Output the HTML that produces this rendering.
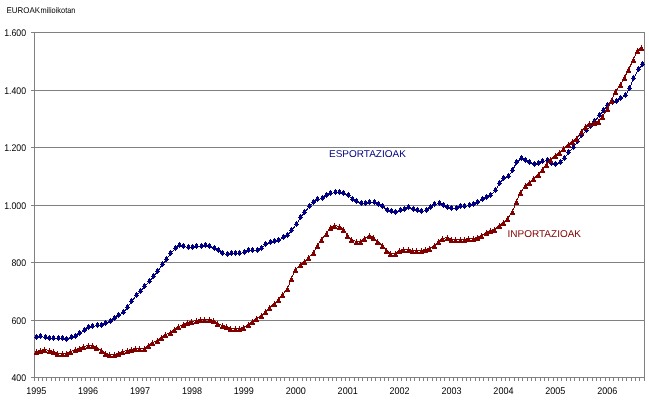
<!DOCTYPE html>
<html><head><meta charset="utf-8"><style>
html,body{margin:0;padding:0;background:#fff;width:649px;height:402px;overflow:hidden}
svg{display:block;will-change:transform}
text{font-family:"Liberation Sans", sans-serif}
</style></head><body>
<svg width="649" height="402" viewBox="0 0 649 402">
<g shape-rendering="crispEdges">
<rect x="31" y="32" width="614" height="1" fill="#808080"/><rect x="31" y="90" width="614" height="1" fill="#808080"/><rect x="31" y="147" width="614" height="1" fill="#808080"/><rect x="31" y="205" width="614" height="1" fill="#808080"/><rect x="31" y="262" width="614" height="1" fill="#808080"/><rect x="31" y="320" width="614" height="1" fill="#808080"/><rect x="31" y="377" width="614" height="1" fill="#808080"/><rect x="34" y="32" width="1" height="349" fill="#808080"/><rect x="644" y="32" width="1" height="349" fill="#808080"/><rect x="34" y="378" width="1" height="3" fill="#808080"/><rect x="38" y="378" width="1" height="3" fill="#808080"/><rect x="42" y="378" width="1" height="3" fill="#808080"/><rect x="46" y="378" width="1" height="3" fill="#808080"/><rect x="51" y="378" width="1" height="3" fill="#808080"/><rect x="55" y="378" width="1" height="3" fill="#808080"/><rect x="59" y="378" width="1" height="3" fill="#808080"/><rect x="64" y="378" width="1" height="3" fill="#808080"/><rect x="68" y="378" width="1" height="3" fill="#808080"/><rect x="72" y="378" width="1" height="3" fill="#808080"/><rect x="77" y="378" width="1" height="3" fill="#808080"/><rect x="81" y="378" width="1" height="3" fill="#808080"/><rect x="85" y="378" width="1" height="3" fill="#808080"/><rect x="90" y="378" width="1" height="3" fill="#808080"/><rect x="94" y="378" width="1" height="3" fill="#808080"/><rect x="98" y="378" width="1" height="3" fill="#808080"/><rect x="103" y="378" width="1" height="3" fill="#808080"/><rect x="107" y="378" width="1" height="3" fill="#808080"/><rect x="111" y="378" width="1" height="3" fill="#808080"/><rect x="116" y="378" width="1" height="3" fill="#808080"/><rect x="120" y="378" width="1" height="3" fill="#808080"/><rect x="124" y="378" width="1" height="3" fill="#808080"/><rect x="129" y="378" width="1" height="3" fill="#808080"/><rect x="133" y="378" width="1" height="3" fill="#808080"/><rect x="137" y="378" width="1" height="3" fill="#808080"/><rect x="142" y="378" width="1" height="3" fill="#808080"/><rect x="146" y="378" width="1" height="3" fill="#808080"/><rect x="150" y="378" width="1" height="3" fill="#808080"/><rect x="155" y="378" width="1" height="3" fill="#808080"/><rect x="159" y="378" width="1" height="3" fill="#808080"/><rect x="163" y="378" width="1" height="3" fill="#808080"/><rect x="168" y="378" width="1" height="3" fill="#808080"/><rect x="172" y="378" width="1" height="3" fill="#808080"/><rect x="176" y="378" width="1" height="3" fill="#808080"/><rect x="181" y="378" width="1" height="3" fill="#808080"/><rect x="185" y="378" width="1" height="3" fill="#808080"/><rect x="189" y="378" width="1" height="3" fill="#808080"/><rect x="194" y="378" width="1" height="3" fill="#808080"/><rect x="198" y="378" width="1" height="3" fill="#808080"/><rect x="202" y="378" width="1" height="3" fill="#808080"/><rect x="207" y="378" width="1" height="3" fill="#808080"/><rect x="211" y="378" width="1" height="3" fill="#808080"/><rect x="215" y="378" width="1" height="3" fill="#808080"/><rect x="220" y="378" width="1" height="3" fill="#808080"/><rect x="224" y="378" width="1" height="3" fill="#808080"/><rect x="228" y="378" width="1" height="3" fill="#808080"/><rect x="233" y="378" width="1" height="3" fill="#808080"/><rect x="237" y="378" width="1" height="3" fill="#808080"/><rect x="241" y="378" width="1" height="3" fill="#808080"/><rect x="245" y="378" width="1" height="3" fill="#808080"/><rect x="250" y="378" width="1" height="3" fill="#808080"/><rect x="254" y="378" width="1" height="3" fill="#808080"/><rect x="258" y="378" width="1" height="3" fill="#808080"/><rect x="263" y="378" width="1" height="3" fill="#808080"/><rect x="267" y="378" width="1" height="3" fill="#808080"/><rect x="271" y="378" width="1" height="3" fill="#808080"/><rect x="276" y="378" width="1" height="3" fill="#808080"/><rect x="280" y="378" width="1" height="3" fill="#808080"/><rect x="284" y="378" width="1" height="3" fill="#808080"/><rect x="289" y="378" width="1" height="3" fill="#808080"/><rect x="293" y="378" width="1" height="3" fill="#808080"/><rect x="297" y="378" width="1" height="3" fill="#808080"/><rect x="302" y="378" width="1" height="3" fill="#808080"/><rect x="306" y="378" width="1" height="3" fill="#808080"/><rect x="310" y="378" width="1" height="3" fill="#808080"/><rect x="315" y="378" width="1" height="3" fill="#808080"/><rect x="319" y="378" width="1" height="3" fill="#808080"/><rect x="323" y="378" width="1" height="3" fill="#808080"/><rect x="328" y="378" width="1" height="3" fill="#808080"/><rect x="332" y="378" width="1" height="3" fill="#808080"/><rect x="336" y="378" width="1" height="3" fill="#808080"/><rect x="341" y="378" width="1" height="3" fill="#808080"/><rect x="345" y="378" width="1" height="3" fill="#808080"/><rect x="349" y="378" width="1" height="3" fill="#808080"/><rect x="354" y="378" width="1" height="3" fill="#808080"/><rect x="358" y="378" width="1" height="3" fill="#808080"/><rect x="362" y="378" width="1" height="3" fill="#808080"/><rect x="367" y="378" width="1" height="3" fill="#808080"/><rect x="371" y="378" width="1" height="3" fill="#808080"/><rect x="375" y="378" width="1" height="3" fill="#808080"/><rect x="380" y="378" width="1" height="3" fill="#808080"/><rect x="384" y="378" width="1" height="3" fill="#808080"/><rect x="388" y="378" width="1" height="3" fill="#808080"/><rect x="393" y="378" width="1" height="3" fill="#808080"/><rect x="397" y="378" width="1" height="3" fill="#808080"/><rect x="401" y="378" width="1" height="3" fill="#808080"/><rect x="406" y="378" width="1" height="3" fill="#808080"/><rect x="410" y="378" width="1" height="3" fill="#808080"/><rect x="414" y="378" width="1" height="3" fill="#808080"/><rect x="419" y="378" width="1" height="3" fill="#808080"/><rect x="423" y="378" width="1" height="3" fill="#808080"/><rect x="427" y="378" width="1" height="3" fill="#808080"/><rect x="432" y="378" width="1" height="3" fill="#808080"/><rect x="436" y="378" width="1" height="3" fill="#808080"/><rect x="440" y="378" width="1" height="3" fill="#808080"/><rect x="444" y="378" width="1" height="3" fill="#808080"/><rect x="449" y="378" width="1" height="3" fill="#808080"/><rect x="453" y="378" width="1" height="3" fill="#808080"/><rect x="457" y="378" width="1" height="3" fill="#808080"/><rect x="462" y="378" width="1" height="3" fill="#808080"/><rect x="466" y="378" width="1" height="3" fill="#808080"/><rect x="470" y="378" width="1" height="3" fill="#808080"/><rect x="475" y="378" width="1" height="3" fill="#808080"/><rect x="479" y="378" width="1" height="3" fill="#808080"/><rect x="483" y="378" width="1" height="3" fill="#808080"/><rect x="488" y="378" width="1" height="3" fill="#808080"/><rect x="492" y="378" width="1" height="3" fill="#808080"/><rect x="496" y="378" width="1" height="3" fill="#808080"/><rect x="501" y="378" width="1" height="3" fill="#808080"/><rect x="505" y="378" width="1" height="3" fill="#808080"/><rect x="509" y="378" width="1" height="3" fill="#808080"/><rect x="514" y="378" width="1" height="3" fill="#808080"/><rect x="518" y="378" width="1" height="3" fill="#808080"/><rect x="522" y="378" width="1" height="3" fill="#808080"/><rect x="527" y="378" width="1" height="3" fill="#808080"/><rect x="531" y="378" width="1" height="3" fill="#808080"/><rect x="535" y="378" width="1" height="3" fill="#808080"/><rect x="540" y="378" width="1" height="3" fill="#808080"/><rect x="544" y="378" width="1" height="3" fill="#808080"/><rect x="548" y="378" width="1" height="3" fill="#808080"/><rect x="553" y="378" width="1" height="3" fill="#808080"/><rect x="557" y="378" width="1" height="3" fill="#808080"/><rect x="561" y="378" width="1" height="3" fill="#808080"/><rect x="566" y="378" width="1" height="3" fill="#808080"/><rect x="570" y="378" width="1" height="3" fill="#808080"/><rect x="574" y="378" width="1" height="3" fill="#808080"/><rect x="579" y="378" width="1" height="3" fill="#808080"/><rect x="583" y="378" width="1" height="3" fill="#808080"/><rect x="587" y="378" width="1" height="3" fill="#808080"/><rect x="592" y="378" width="1" height="3" fill="#808080"/><rect x="596" y="378" width="1" height="3" fill="#808080"/><rect x="600" y="378" width="1" height="3" fill="#808080"/><rect x="605" y="378" width="1" height="3" fill="#808080"/><rect x="609" y="378" width="1" height="3" fill="#808080"/><rect x="613" y="378" width="1" height="3" fill="#808080"/><rect x="618" y="378" width="1" height="3" fill="#808080"/><rect x="622" y="378" width="1" height="3" fill="#808080"/><rect x="626" y="378" width="1" height="3" fill="#808080"/><rect x="631" y="378" width="1" height="3" fill="#808080"/><rect x="635" y="378" width="1" height="3" fill="#808080"/><rect x="639" y="378" width="1" height="3" fill="#808080"/><rect x="644" y="378" width="1" height="3" fill="#808080"/>
</g>
<g font-family="Liberation Sans, sans-serif" font-size="9.7" fill="#000" text-rendering="geometricPrecision">
<text x="0" y="0" transform="translate(26,36) scale(0.9,1)" text-anchor="end">1.600</text><text x="0" y="0" transform="translate(26,94) scale(0.9,1)" text-anchor="end">1.400</text><text x="0" y="0" transform="translate(26,151) scale(0.9,1)" text-anchor="end">1.200</text><text x="0" y="0" transform="translate(26,209) scale(0.9,1)" text-anchor="end">1.000</text><text x="0" y="0" transform="translate(26,266) scale(0.9,1)" text-anchor="end">800</text><text x="0" y="0" transform="translate(26,324) scale(0.9,1)" text-anchor="end">600</text><text x="0" y="0" transform="translate(26,381) scale(0.9,1)" text-anchor="end">400</text>
<text x="0" y="0" transform="translate(36.16,394) scale(0.93,1)" text-anchor="middle">1995</text><text x="0" y="0" transform="translate(88.08,394) scale(0.93,1)" text-anchor="middle">1996</text><text x="0" y="0" transform="translate(139.99,394) scale(0.93,1)" text-anchor="middle">1997</text><text x="0" y="0" transform="translate(191.91,394) scale(0.93,1)" text-anchor="middle">1998</text><text x="0" y="0" transform="translate(243.82,394) scale(0.93,1)" text-anchor="middle">1999</text><text x="0" y="0" transform="translate(295.74,394) scale(0.93,1)" text-anchor="middle">2000</text><text x="0" y="0" transform="translate(347.65,394) scale(0.93,1)" text-anchor="middle">2001</text><text x="0" y="0" transform="translate(399.57,394) scale(0.93,1)" text-anchor="middle">2002</text><text x="0" y="0" transform="translate(451.48,394) scale(0.93,1)" text-anchor="middle">2003</text><text x="0" y="0" transform="translate(503.40,394) scale(0.93,1)" text-anchor="middle">2004</text><text x="0" y="0" transform="translate(555.31,394) scale(0.93,1)" text-anchor="middle">2005</text><text x="0" y="0" transform="translate(607.23,394) scale(0.93,1)" text-anchor="middle">2006</text>
</g>
<g font-family="Liberation Sans, sans-serif" font-size="8.3" fill="#000" text-rendering="geometricPrecision"><text x="6.5" y="13" textLength="33.5" lengthAdjust="spacingAndGlyphs">EUROAK</text><text x="40.5" y="13" textLength="35" lengthAdjust="spacingAndGlyphs">milioikotan</text></g>
<polyline points="36.5,337.5 40.5,336.5 45.5,337.5 49.5,338.5 53.5,338.5 58.5,338.5 62.5,338.5 66.5,339.5 71.5,337.5 75.5,336.5 79.5,333.5 84.5,330.5 88.5,327.5 92.5,326.5 97.5,325.5 101.5,325.5 105.5,323.5 110.5,321.5 114.5,318.5 118.5,315.5 123.5,312.5 127.5,307.5 131.5,301.5 136.5,295.5 140.5,291.5 144.5,286.5 149.5,281.5 153.5,276.5 157.5,271.5 162.5,264.5 166.5,259.5 170.5,253.5 175.5,248.5 179.5,245.5 183.5,246.5 188.5,247.5 192.5,247.5 196.5,246.5 201.5,246.5 205.5,245.5 209.5,246.5 214.5,248.5 218.5,250.5 222.5,253.5 227.5,254.5 231.5,253.5 235.5,253.5 239.5,253.5 244.5,252.5 248.5,250.5 252.5,250.5 257.5,250.5 261.5,248.5 265.5,244.5 270.5,242.5 274.5,241.5 278.5,240.5 283.5,237.5 287.5,235.5 291.5,230.5 296.5,224.5 300.5,217.5 304.5,212.5 309.5,206.5 313.5,202.5 317.5,199.5 322.5,198.5 326.5,195.5 330.5,193.5 335.5,192.5 339.5,192.5 343.5,193.5 348.5,195.5 352.5,199.5 356.5,201.5 361.5,203.5 365.5,203.5 369.5,202.5 374.5,202.5 378.5,204.5 382.5,206.5 387.5,210.5 391.5,211.5 395.5,212.5 400.5,210.5 404.5,209.5 408.5,207.5 413.5,209.5 417.5,210.5 421.5,211.5 426.5,210.5 430.5,207.5 434.5,204.5 439.5,203.5 443.5,205.5 447.5,207.5 451.5,208.5 456.5,208.5 460.5,206.5 464.5,206.5 469.5,205.5 473.5,204.5 477.5,202.5 482.5,199.5 486.5,197.5 490.5,195.5 495.5,190.5 499.5,183.5 503.5,178.5 508.5,176.5 512.5,170.5 516.5,162.5 521.5,158.5 525.5,160.5 529.5,162.5 534.5,164.5 538.5,163.5 542.5,161.5 547.5,160.5 551.5,163.5 555.5,164.5 560.5,162.5 564.5,158.5 568.5,152.5 573.5,147.5 577.5,141.5 581.5,135.5 586.5,130.5 590.5,126.5 594.5,121.5 599.5,115.5 603.5,110.5 607.5,105.5 612.5,102.5 616.5,101.5 620.5,98.5 625.5,95.5 629.5,88.5 633.5,78.5 638.5,69.5 642.5,64.5" fill="none" stroke="#000080" stroke-width="1" shape-rendering="crispEdges"/>
<path d="M36,334h1v1h1v2h1v1h-1v1h-1v1h-1v-1h-1v-1h-1v-1h1v-2h1zM40,333h1v1h1v2h1v1h-1v1h-1v1h-1v-1h-1v-1h-1v-1h1v-2h1zM45,334h1v1h1v2h1v1h-1v1h-1v1h-1v-1h-1v-1h-1v-1h1v-2h1zM49,335h1v1h1v2h1v1h-1v1h-1v1h-1v-1h-1v-1h-1v-1h1v-2h1zM53,335h1v1h1v2h1v1h-1v1h-1v1h-1v-1h-1v-1h-1v-1h1v-2h1zM58,335h1v1h1v2h1v1h-1v1h-1v1h-1v-1h-1v-1h-1v-1h1v-2h1zM62,335h1v1h1v2h1v1h-1v1h-1v1h-1v-1h-1v-1h-1v-1h1v-2h1zM66,336h1v1h1v2h1v1h-1v1h-1v1h-1v-1h-1v-1h-1v-1h1v-2h1zM71,334h1v1h1v2h1v1h-1v1h-1v1h-1v-1h-1v-1h-1v-1h1v-2h1zM75,333h1v1h1v2h1v1h-1v1h-1v1h-1v-1h-1v-1h-1v-1h1v-2h1zM79,330h1v1h1v2h1v1h-1v1h-1v1h-1v-1h-1v-1h-1v-1h1v-2h1zM84,327h1v1h1v2h1v1h-1v1h-1v1h-1v-1h-1v-1h-1v-1h1v-2h1zM88,324h1v1h1v2h1v1h-1v1h-1v1h-1v-1h-1v-1h-1v-1h1v-2h1zM92,323h1v1h1v2h1v1h-1v1h-1v1h-1v-1h-1v-1h-1v-1h1v-2h1zM97,322h1v1h1v2h1v1h-1v1h-1v1h-1v-1h-1v-1h-1v-1h1v-2h1zM101,322h1v1h1v2h1v1h-1v1h-1v1h-1v-1h-1v-1h-1v-1h1v-2h1zM105,320h1v1h1v2h1v1h-1v1h-1v1h-1v-1h-1v-1h-1v-1h1v-2h1zM110,318h1v1h1v2h1v1h-1v1h-1v1h-1v-1h-1v-1h-1v-1h1v-2h1zM114,315h1v1h1v2h1v1h-1v1h-1v1h-1v-1h-1v-1h-1v-1h1v-2h1zM118,312h1v1h1v2h1v1h-1v1h-1v1h-1v-1h-1v-1h-1v-1h1v-2h1zM123,309h1v1h1v2h1v1h-1v1h-1v1h-1v-1h-1v-1h-1v-1h1v-2h1zM127,304h1v1h1v2h1v1h-1v1h-1v1h-1v-1h-1v-1h-1v-1h1v-2h1zM131,298h1v1h1v2h1v1h-1v1h-1v1h-1v-1h-1v-1h-1v-1h1v-2h1zM136,292h1v1h1v2h1v1h-1v1h-1v1h-1v-1h-1v-1h-1v-1h1v-2h1zM140,288h1v1h1v2h1v1h-1v1h-1v1h-1v-1h-1v-1h-1v-1h1v-2h1zM144,283h1v1h1v2h1v1h-1v1h-1v1h-1v-1h-1v-1h-1v-1h1v-2h1zM149,278h1v1h1v2h1v1h-1v1h-1v1h-1v-1h-1v-1h-1v-1h1v-2h1zM153,273h1v1h1v2h1v1h-1v1h-1v1h-1v-1h-1v-1h-1v-1h1v-2h1zM157,268h1v1h1v2h1v1h-1v1h-1v1h-1v-1h-1v-1h-1v-1h1v-2h1zM162,261h1v1h1v2h1v1h-1v1h-1v1h-1v-1h-1v-1h-1v-1h1v-2h1zM166,256h1v1h1v2h1v1h-1v1h-1v1h-1v-1h-1v-1h-1v-1h1v-2h1zM170,250h1v1h1v2h1v1h-1v1h-1v1h-1v-1h-1v-1h-1v-1h1v-2h1zM175,245h1v1h1v2h1v1h-1v1h-1v1h-1v-1h-1v-1h-1v-1h1v-2h1zM179,242h1v1h1v2h1v1h-1v1h-1v1h-1v-1h-1v-1h-1v-1h1v-2h1zM183,243h1v1h1v2h1v1h-1v1h-1v1h-1v-1h-1v-1h-1v-1h1v-2h1zM188,244h1v1h1v2h1v1h-1v1h-1v1h-1v-1h-1v-1h-1v-1h1v-2h1zM192,244h1v1h1v2h1v1h-1v1h-1v1h-1v-1h-1v-1h-1v-1h1v-2h1zM196,243h1v1h1v2h1v1h-1v1h-1v1h-1v-1h-1v-1h-1v-1h1v-2h1zM201,243h1v1h1v2h1v1h-1v1h-1v1h-1v-1h-1v-1h-1v-1h1v-2h1zM205,242h1v1h1v2h1v1h-1v1h-1v1h-1v-1h-1v-1h-1v-1h1v-2h1zM209,243h1v1h1v2h1v1h-1v1h-1v1h-1v-1h-1v-1h-1v-1h1v-2h1zM214,245h1v1h1v2h1v1h-1v1h-1v1h-1v-1h-1v-1h-1v-1h1v-2h1zM218,247h1v1h1v2h1v1h-1v1h-1v1h-1v-1h-1v-1h-1v-1h1v-2h1zM222,250h1v1h1v2h1v1h-1v1h-1v1h-1v-1h-1v-1h-1v-1h1v-2h1zM227,251h1v1h1v2h1v1h-1v1h-1v1h-1v-1h-1v-1h-1v-1h1v-2h1zM231,250h1v1h1v2h1v1h-1v1h-1v1h-1v-1h-1v-1h-1v-1h1v-2h1zM235,250h1v1h1v2h1v1h-1v1h-1v1h-1v-1h-1v-1h-1v-1h1v-2h1zM239,250h1v1h1v2h1v1h-1v1h-1v1h-1v-1h-1v-1h-1v-1h1v-2h1zM244,249h1v1h1v2h1v1h-1v1h-1v1h-1v-1h-1v-1h-1v-1h1v-2h1zM248,247h1v1h1v2h1v1h-1v1h-1v1h-1v-1h-1v-1h-1v-1h1v-2h1zM252,247h1v1h1v2h1v1h-1v1h-1v1h-1v-1h-1v-1h-1v-1h1v-2h1zM257,247h1v1h1v2h1v1h-1v1h-1v1h-1v-1h-1v-1h-1v-1h1v-2h1zM261,245h1v1h1v2h1v1h-1v1h-1v1h-1v-1h-1v-1h-1v-1h1v-2h1zM265,241h1v1h1v2h1v1h-1v1h-1v1h-1v-1h-1v-1h-1v-1h1v-2h1zM270,239h1v1h1v2h1v1h-1v1h-1v1h-1v-1h-1v-1h-1v-1h1v-2h1zM274,238h1v1h1v2h1v1h-1v1h-1v1h-1v-1h-1v-1h-1v-1h1v-2h1zM278,237h1v1h1v2h1v1h-1v1h-1v1h-1v-1h-1v-1h-1v-1h1v-2h1zM283,234h1v1h1v2h1v1h-1v1h-1v1h-1v-1h-1v-1h-1v-1h1v-2h1zM287,232h1v1h1v2h1v1h-1v1h-1v1h-1v-1h-1v-1h-1v-1h1v-2h1zM291,227h1v1h1v2h1v1h-1v1h-1v1h-1v-1h-1v-1h-1v-1h1v-2h1zM296,221h1v1h1v2h1v1h-1v1h-1v1h-1v-1h-1v-1h-1v-1h1v-2h1zM300,214h1v1h1v2h1v1h-1v1h-1v1h-1v-1h-1v-1h-1v-1h1v-2h1zM304,209h1v1h1v2h1v1h-1v1h-1v1h-1v-1h-1v-1h-1v-1h1v-2h1zM309,203h1v1h1v2h1v1h-1v1h-1v1h-1v-1h-1v-1h-1v-1h1v-2h1zM313,199h1v1h1v2h1v1h-1v1h-1v1h-1v-1h-1v-1h-1v-1h1v-2h1zM317,196h1v1h1v2h1v1h-1v1h-1v1h-1v-1h-1v-1h-1v-1h1v-2h1zM322,195h1v1h1v2h1v1h-1v1h-1v1h-1v-1h-1v-1h-1v-1h1v-2h1zM326,192h1v1h1v2h1v1h-1v1h-1v1h-1v-1h-1v-1h-1v-1h1v-2h1zM330,190h1v1h1v2h1v1h-1v1h-1v1h-1v-1h-1v-1h-1v-1h1v-2h1zM335,189h1v1h1v2h1v1h-1v1h-1v1h-1v-1h-1v-1h-1v-1h1v-2h1zM339,189h1v1h1v2h1v1h-1v1h-1v1h-1v-1h-1v-1h-1v-1h1v-2h1zM343,190h1v1h1v2h1v1h-1v1h-1v1h-1v-1h-1v-1h-1v-1h1v-2h1zM348,192h1v1h1v2h1v1h-1v1h-1v1h-1v-1h-1v-1h-1v-1h1v-2h1zM352,196h1v1h1v2h1v1h-1v1h-1v1h-1v-1h-1v-1h-1v-1h1v-2h1zM356,198h1v1h1v2h1v1h-1v1h-1v1h-1v-1h-1v-1h-1v-1h1v-2h1zM361,200h1v1h1v2h1v1h-1v1h-1v1h-1v-1h-1v-1h-1v-1h1v-2h1zM365,200h1v1h1v2h1v1h-1v1h-1v1h-1v-1h-1v-1h-1v-1h1v-2h1zM369,199h1v1h1v2h1v1h-1v1h-1v1h-1v-1h-1v-1h-1v-1h1v-2h1zM374,199h1v1h1v2h1v1h-1v1h-1v1h-1v-1h-1v-1h-1v-1h1v-2h1zM378,201h1v1h1v2h1v1h-1v1h-1v1h-1v-1h-1v-1h-1v-1h1v-2h1zM382,203h1v1h1v2h1v1h-1v1h-1v1h-1v-1h-1v-1h-1v-1h1v-2h1zM387,207h1v1h1v2h1v1h-1v1h-1v1h-1v-1h-1v-1h-1v-1h1v-2h1zM391,208h1v1h1v2h1v1h-1v1h-1v1h-1v-1h-1v-1h-1v-1h1v-2h1zM395,209h1v1h1v2h1v1h-1v1h-1v1h-1v-1h-1v-1h-1v-1h1v-2h1zM400,207h1v1h1v2h1v1h-1v1h-1v1h-1v-1h-1v-1h-1v-1h1v-2h1zM404,206h1v1h1v2h1v1h-1v1h-1v1h-1v-1h-1v-1h-1v-1h1v-2h1zM408,204h1v1h1v2h1v1h-1v1h-1v1h-1v-1h-1v-1h-1v-1h1v-2h1zM413,206h1v1h1v2h1v1h-1v1h-1v1h-1v-1h-1v-1h-1v-1h1v-2h1zM417,207h1v1h1v2h1v1h-1v1h-1v1h-1v-1h-1v-1h-1v-1h1v-2h1zM421,208h1v1h1v2h1v1h-1v1h-1v1h-1v-1h-1v-1h-1v-1h1v-2h1zM426,207h1v1h1v2h1v1h-1v1h-1v1h-1v-1h-1v-1h-1v-1h1v-2h1zM430,204h1v1h1v2h1v1h-1v1h-1v1h-1v-1h-1v-1h-1v-1h1v-2h1zM434,201h1v1h1v2h1v1h-1v1h-1v1h-1v-1h-1v-1h-1v-1h1v-2h1zM439,200h1v1h1v2h1v1h-1v1h-1v1h-1v-1h-1v-1h-1v-1h1v-2h1zM443,202h1v1h1v2h1v1h-1v1h-1v1h-1v-1h-1v-1h-1v-1h1v-2h1zM447,204h1v1h1v2h1v1h-1v1h-1v1h-1v-1h-1v-1h-1v-1h1v-2h1zM451,205h1v1h1v2h1v1h-1v1h-1v1h-1v-1h-1v-1h-1v-1h1v-2h1zM456,205h1v1h1v2h1v1h-1v1h-1v1h-1v-1h-1v-1h-1v-1h1v-2h1zM460,203h1v1h1v2h1v1h-1v1h-1v1h-1v-1h-1v-1h-1v-1h1v-2h1zM464,203h1v1h1v2h1v1h-1v1h-1v1h-1v-1h-1v-1h-1v-1h1v-2h1zM469,202h1v1h1v2h1v1h-1v1h-1v1h-1v-1h-1v-1h-1v-1h1v-2h1zM473,201h1v1h1v2h1v1h-1v1h-1v1h-1v-1h-1v-1h-1v-1h1v-2h1zM477,199h1v1h1v2h1v1h-1v1h-1v1h-1v-1h-1v-1h-1v-1h1v-2h1zM482,196h1v1h1v2h1v1h-1v1h-1v1h-1v-1h-1v-1h-1v-1h1v-2h1zM486,194h1v1h1v2h1v1h-1v1h-1v1h-1v-1h-1v-1h-1v-1h1v-2h1zM490,192h1v1h1v2h1v1h-1v1h-1v1h-1v-1h-1v-1h-1v-1h1v-2h1zM495,187h1v1h1v2h1v1h-1v1h-1v1h-1v-1h-1v-1h-1v-1h1v-2h1zM499,180h1v1h1v2h1v1h-1v1h-1v1h-1v-1h-1v-1h-1v-1h1v-2h1zM503,175h1v1h1v2h1v1h-1v1h-1v1h-1v-1h-1v-1h-1v-1h1v-2h1zM508,173h1v1h1v2h1v1h-1v1h-1v1h-1v-1h-1v-1h-1v-1h1v-2h1zM512,167h1v1h1v2h1v1h-1v1h-1v1h-1v-1h-1v-1h-1v-1h1v-2h1zM516,159h1v1h1v2h1v1h-1v1h-1v1h-1v-1h-1v-1h-1v-1h1v-2h1zM521,155h1v1h1v2h1v1h-1v1h-1v1h-1v-1h-1v-1h-1v-1h1v-2h1zM525,157h1v1h1v2h1v1h-1v1h-1v1h-1v-1h-1v-1h-1v-1h1v-2h1zM529,159h1v1h1v2h1v1h-1v1h-1v1h-1v-1h-1v-1h-1v-1h1v-2h1zM534,161h1v1h1v2h1v1h-1v1h-1v1h-1v-1h-1v-1h-1v-1h1v-2h1zM538,160h1v1h1v2h1v1h-1v1h-1v1h-1v-1h-1v-1h-1v-1h1v-2h1zM542,158h1v1h1v2h1v1h-1v1h-1v1h-1v-1h-1v-1h-1v-1h1v-2h1zM547,157h1v1h1v2h1v1h-1v1h-1v1h-1v-1h-1v-1h-1v-1h1v-2h1zM551,160h1v1h1v2h1v1h-1v1h-1v1h-1v-1h-1v-1h-1v-1h1v-2h1zM555,161h1v1h1v2h1v1h-1v1h-1v1h-1v-1h-1v-1h-1v-1h1v-2h1zM560,159h1v1h1v2h1v1h-1v1h-1v1h-1v-1h-1v-1h-1v-1h1v-2h1zM564,155h1v1h1v2h1v1h-1v1h-1v1h-1v-1h-1v-1h-1v-1h1v-2h1zM568,149h1v1h1v2h1v1h-1v1h-1v1h-1v-1h-1v-1h-1v-1h1v-2h1zM573,144h1v1h1v2h1v1h-1v1h-1v1h-1v-1h-1v-1h-1v-1h1v-2h1zM577,138h1v1h1v2h1v1h-1v1h-1v1h-1v-1h-1v-1h-1v-1h1v-2h1zM581,132h1v1h1v2h1v1h-1v1h-1v1h-1v-1h-1v-1h-1v-1h1v-2h1zM586,127h1v1h1v2h1v1h-1v1h-1v1h-1v-1h-1v-1h-1v-1h1v-2h1zM590,123h1v1h1v2h1v1h-1v1h-1v1h-1v-1h-1v-1h-1v-1h1v-2h1zM594,118h1v1h1v2h1v1h-1v1h-1v1h-1v-1h-1v-1h-1v-1h1v-2h1zM599,112h1v1h1v2h1v1h-1v1h-1v1h-1v-1h-1v-1h-1v-1h1v-2h1zM603,107h1v1h1v2h1v1h-1v1h-1v1h-1v-1h-1v-1h-1v-1h1v-2h1zM607,102h1v1h1v2h1v1h-1v1h-1v1h-1v-1h-1v-1h-1v-1h1v-2h1zM612,99h1v1h1v2h1v1h-1v1h-1v1h-1v-1h-1v-1h-1v-1h1v-2h1zM616,98h1v1h1v2h1v1h-1v1h-1v1h-1v-1h-1v-1h-1v-1h1v-2h1zM620,95h1v1h1v2h1v1h-1v1h-1v1h-1v-1h-1v-1h-1v-1h1v-2h1zM625,92h1v1h1v2h1v1h-1v1h-1v1h-1v-1h-1v-1h-1v-1h1v-2h1zM629,85h1v1h1v2h1v1h-1v1h-1v1h-1v-1h-1v-1h-1v-1h1v-2h1zM633,75h1v1h1v2h1v1h-1v1h-1v1h-1v-1h-1v-1h-1v-1h1v-2h1zM638,66h1v1h1v2h1v1h-1v1h-1v1h-1v-1h-1v-1h-1v-1h1v-2h1zM642,61h1v1h1v2h1v1h-1v1h-1v1h-1v-1h-1v-1h-1v-1h1v-2h1z" fill="#000080" shape-rendering="crispEdges"/>
<polyline points="36.5,351.5 40.5,350.5 44.5,349.5 49.5,350.5 53.5,351.5 57.5,353.5 62.5,353.5 66.5,353.5 70.5,351.5 75.5,349.5 79.5,348.5 83.5,346.5 88.5,345.5 92.5,345.5 96.5,347.5 101.5,350.5 105.5,353.5 109.5,354.5 114.5,354.5 118.5,353.5 122.5,351.5 127.5,350.5 131.5,349.5 135.5,348.5 139.5,348.5 144.5,348.5 148.5,345.5 152.5,342.5 157.5,340.5 161.5,337.5 165.5,334.5 170.5,332.5 174.5,329.5 178.5,326.5 183.5,324.5 187.5,322.5 191.5,321.5 196.5,320.5 200.5,319.5 204.5,319.5 209.5,319.5 213.5,320.5 217.5,323.5 222.5,325.5 226.5,326.5 230.5,328.5 235.5,328.5 239.5,328.5 243.5,327.5 248.5,324.5 252.5,321.5 256.5,318.5 261.5,315.5 265.5,311.5 269.5,307.5 274.5,303.5 278.5,299.5 282.5,294.5 287.5,288.5 291.5,278.5 295.5,269.5 300.5,264.5 304.5,261.5 308.5,257.5 313.5,252.5 317.5,245.5 321.5,239.5 326.5,233.5 330.5,227.5 334.5,225.5 339.5,226.5 343.5,229.5 347.5,235.5 351.5,239.5 356.5,241.5 360.5,241.5 364.5,238.5 369.5,235.5 373.5,237.5 377.5,241.5 382.5,245.5 386.5,250.5 390.5,253.5 395.5,253.5 399.5,250.5 403.5,249.5 408.5,249.5 412.5,250.5 416.5,250.5 421.5,250.5 425.5,249.5 429.5,248.5 434.5,245.5 438.5,241.5 442.5,238.5 447.5,237.5 451.5,239.5 455.5,239.5 460.5,239.5 464.5,239.5 468.5,238.5 473.5,238.5 477.5,237.5 481.5,235.5 486.5,232.5 490.5,230.5 494.5,229.5 499.5,225.5 503.5,222.5 507.5,218.5 512.5,211.5 516.5,201.5 520.5,192.5 525.5,185.5 529.5,182.5 533.5,178.5 538.5,174.5 542.5,169.5 546.5,164.5 550.5,159.5 555.5,155.5 559.5,152.5 563.5,148.5 568.5,144.5 572.5,141.5 576.5,138.5 581.5,131.5 585.5,126.5 589.5,123.5 594.5,122.5 598.5,121.5 602.5,116.5 607.5,108.5 611.5,100.5 615.5,91.5 620.5,84.5 624.5,77.5 628.5,69.5 633.5,59.5 637.5,50.5 641.5,47.5" fill="none" stroke="#800000" stroke-width="1" shape-rendering="crispEdges"/>
<path d="M36,349h1v2h1v2h1v2h-5v-2h1v-2h1zM40,348h1v2h1v2h1v2h-5v-2h1v-2h1zM44,347h1v2h1v2h1v2h-5v-2h1v-2h1zM49,348h1v2h1v2h1v2h-5v-2h1v-2h1zM53,349h1v2h1v2h1v2h-5v-2h1v-2h1zM57,351h1v2h1v2h1v2h-5v-2h1v-2h1zM62,351h1v2h1v2h1v2h-5v-2h1v-2h1zM66,351h1v2h1v2h1v2h-5v-2h1v-2h1zM70,349h1v2h1v2h1v2h-5v-2h1v-2h1zM75,347h1v2h1v2h1v2h-5v-2h1v-2h1zM79,346h1v2h1v2h1v2h-5v-2h1v-2h1zM83,344h1v2h1v2h1v2h-5v-2h1v-2h1zM88,343h1v2h1v2h1v2h-5v-2h1v-2h1zM92,343h1v2h1v2h1v2h-5v-2h1v-2h1zM96,345h1v2h1v2h1v2h-5v-2h1v-2h1zM101,348h1v2h1v2h1v2h-5v-2h1v-2h1zM105,351h1v2h1v2h1v2h-5v-2h1v-2h1zM109,352h1v2h1v2h1v2h-5v-2h1v-2h1zM114,352h1v2h1v2h1v2h-5v-2h1v-2h1zM118,351h1v2h1v2h1v2h-5v-2h1v-2h1zM122,349h1v2h1v2h1v2h-5v-2h1v-2h1zM127,348h1v2h1v2h1v2h-5v-2h1v-2h1zM131,347h1v2h1v2h1v2h-5v-2h1v-2h1zM135,346h1v2h1v2h1v2h-5v-2h1v-2h1zM139,346h1v2h1v2h1v2h-5v-2h1v-2h1zM144,346h1v2h1v2h1v2h-5v-2h1v-2h1zM148,343h1v2h1v2h1v2h-5v-2h1v-2h1zM152,340h1v2h1v2h1v2h-5v-2h1v-2h1zM157,338h1v2h1v2h1v2h-5v-2h1v-2h1zM161,335h1v2h1v2h1v2h-5v-2h1v-2h1zM165,332h1v2h1v2h1v2h-5v-2h1v-2h1zM170,330h1v2h1v2h1v2h-5v-2h1v-2h1zM174,327h1v2h1v2h1v2h-5v-2h1v-2h1zM178,324h1v2h1v2h1v2h-5v-2h1v-2h1zM183,322h1v2h1v2h1v2h-5v-2h1v-2h1zM187,320h1v2h1v2h1v2h-5v-2h1v-2h1zM191,319h1v2h1v2h1v2h-5v-2h1v-2h1zM196,318h1v2h1v2h1v2h-5v-2h1v-2h1zM200,317h1v2h1v2h1v2h-5v-2h1v-2h1zM204,317h1v2h1v2h1v2h-5v-2h1v-2h1zM209,317h1v2h1v2h1v2h-5v-2h1v-2h1zM213,318h1v2h1v2h1v2h-5v-2h1v-2h1zM217,321h1v2h1v2h1v2h-5v-2h1v-2h1zM222,323h1v2h1v2h1v2h-5v-2h1v-2h1zM226,324h1v2h1v2h1v2h-5v-2h1v-2h1zM230,326h1v2h1v2h1v2h-5v-2h1v-2h1zM235,326h1v2h1v2h1v2h-5v-2h1v-2h1zM239,326h1v2h1v2h1v2h-5v-2h1v-2h1zM243,325h1v2h1v2h1v2h-5v-2h1v-2h1zM248,322h1v2h1v2h1v2h-5v-2h1v-2h1zM252,319h1v2h1v2h1v2h-5v-2h1v-2h1zM256,316h1v2h1v2h1v2h-5v-2h1v-2h1zM261,313h1v2h1v2h1v2h-5v-2h1v-2h1zM265,309h1v2h1v2h1v2h-5v-2h1v-2h1zM269,305h1v2h1v2h1v2h-5v-2h1v-2h1zM274,301h1v2h1v2h1v2h-5v-2h1v-2h1zM278,297h1v2h1v2h1v2h-5v-2h1v-2h1zM282,292h1v2h1v2h1v2h-5v-2h1v-2h1zM287,286h1v2h1v2h1v2h-5v-2h1v-2h1zM291,276h1v2h1v2h1v2h-5v-2h1v-2h1zM295,267h1v2h1v2h1v2h-5v-2h1v-2h1zM300,262h1v2h1v2h1v2h-5v-2h1v-2h1zM304,259h1v2h1v2h1v2h-5v-2h1v-2h1zM308,255h1v2h1v2h1v2h-5v-2h1v-2h1zM313,250h1v2h1v2h1v2h-5v-2h1v-2h1zM317,243h1v2h1v2h1v2h-5v-2h1v-2h1zM321,237h1v2h1v2h1v2h-5v-2h1v-2h1zM326,231h1v2h1v2h1v2h-5v-2h1v-2h1zM330,225h1v2h1v2h1v2h-5v-2h1v-2h1zM334,223h1v2h1v2h1v2h-5v-2h1v-2h1zM339,224h1v2h1v2h1v2h-5v-2h1v-2h1zM343,227h1v2h1v2h1v2h-5v-2h1v-2h1zM347,233h1v2h1v2h1v2h-5v-2h1v-2h1zM351,237h1v2h1v2h1v2h-5v-2h1v-2h1zM356,239h1v2h1v2h1v2h-5v-2h1v-2h1zM360,239h1v2h1v2h1v2h-5v-2h1v-2h1zM364,236h1v2h1v2h1v2h-5v-2h1v-2h1zM369,233h1v2h1v2h1v2h-5v-2h1v-2h1zM373,235h1v2h1v2h1v2h-5v-2h1v-2h1zM377,239h1v2h1v2h1v2h-5v-2h1v-2h1zM382,243h1v2h1v2h1v2h-5v-2h1v-2h1zM386,248h1v2h1v2h1v2h-5v-2h1v-2h1zM390,251h1v2h1v2h1v2h-5v-2h1v-2h1zM395,251h1v2h1v2h1v2h-5v-2h1v-2h1zM399,248h1v2h1v2h1v2h-5v-2h1v-2h1zM403,247h1v2h1v2h1v2h-5v-2h1v-2h1zM408,247h1v2h1v2h1v2h-5v-2h1v-2h1zM412,248h1v2h1v2h1v2h-5v-2h1v-2h1zM416,248h1v2h1v2h1v2h-5v-2h1v-2h1zM421,248h1v2h1v2h1v2h-5v-2h1v-2h1zM425,247h1v2h1v2h1v2h-5v-2h1v-2h1zM429,246h1v2h1v2h1v2h-5v-2h1v-2h1zM434,243h1v2h1v2h1v2h-5v-2h1v-2h1zM438,239h1v2h1v2h1v2h-5v-2h1v-2h1zM442,236h1v2h1v2h1v2h-5v-2h1v-2h1zM447,235h1v2h1v2h1v2h-5v-2h1v-2h1zM451,237h1v2h1v2h1v2h-5v-2h1v-2h1zM455,237h1v2h1v2h1v2h-5v-2h1v-2h1zM460,237h1v2h1v2h1v2h-5v-2h1v-2h1zM464,237h1v2h1v2h1v2h-5v-2h1v-2h1zM468,236h1v2h1v2h1v2h-5v-2h1v-2h1zM473,236h1v2h1v2h1v2h-5v-2h1v-2h1zM477,235h1v2h1v2h1v2h-5v-2h1v-2h1zM481,233h1v2h1v2h1v2h-5v-2h1v-2h1zM486,230h1v2h1v2h1v2h-5v-2h1v-2h1zM490,228h1v2h1v2h1v2h-5v-2h1v-2h1zM494,227h1v2h1v2h1v2h-5v-2h1v-2h1zM499,223h1v2h1v2h1v2h-5v-2h1v-2h1zM503,220h1v2h1v2h1v2h-5v-2h1v-2h1zM507,216h1v2h1v2h1v2h-5v-2h1v-2h1zM512,209h1v2h1v2h1v2h-5v-2h1v-2h1zM516,199h1v2h1v2h1v2h-5v-2h1v-2h1zM520,190h1v2h1v2h1v2h-5v-2h1v-2h1zM525,183h1v2h1v2h1v2h-5v-2h1v-2h1zM529,180h1v2h1v2h1v2h-5v-2h1v-2h1zM533,176h1v2h1v2h1v2h-5v-2h1v-2h1zM538,172h1v2h1v2h1v2h-5v-2h1v-2h1zM542,167h1v2h1v2h1v2h-5v-2h1v-2h1zM546,162h1v2h1v2h1v2h-5v-2h1v-2h1zM550,157h1v2h1v2h1v2h-5v-2h1v-2h1zM555,153h1v2h1v2h1v2h-5v-2h1v-2h1zM559,150h1v2h1v2h1v2h-5v-2h1v-2h1zM563,146h1v2h1v2h1v2h-5v-2h1v-2h1zM568,142h1v2h1v2h1v2h-5v-2h1v-2h1zM572,139h1v2h1v2h1v2h-5v-2h1v-2h1zM576,136h1v2h1v2h1v2h-5v-2h1v-2h1zM581,129h1v2h1v2h1v2h-5v-2h1v-2h1zM585,124h1v2h1v2h1v2h-5v-2h1v-2h1zM589,121h1v2h1v2h1v2h-5v-2h1v-2h1zM594,120h1v2h1v2h1v2h-5v-2h1v-2h1zM598,119h1v2h1v2h1v2h-5v-2h1v-2h1zM602,114h1v2h1v2h1v2h-5v-2h1v-2h1zM607,106h1v2h1v2h1v2h-5v-2h1v-2h1zM611,98h1v2h1v2h1v2h-5v-2h1v-2h1zM615,89h1v2h1v2h1v2h-5v-2h1v-2h1zM620,82h1v2h1v2h1v2h-5v-2h1v-2h1zM624,75h1v2h1v2h1v2h-5v-2h1v-2h1zM628,67h1v2h1v2h1v2h-5v-2h1v-2h1zM633,57h1v2h1v2h1v2h-5v-2h1v-2h1zM637,48h1v2h1v2h1v2h-5v-2h1v-2h1zM641,45h1v2h1v2h1v2h-5v-2h1v-2h1z" fill="#800000" shape-rendering="crispEdges"/>
<text x="329" y="157" font-family="Liberation Sans, sans-serif" font-size="10" fill="#000080" text-rendering="geometricPrecision">ESPORTAZIOAK</text>
<text x="507.5" y="237" font-family="Liberation Sans, sans-serif" font-size="10" fill="#800000" text-rendering="geometricPrecision">INPORTAZIOAK</text>
</svg>
</body></html>
